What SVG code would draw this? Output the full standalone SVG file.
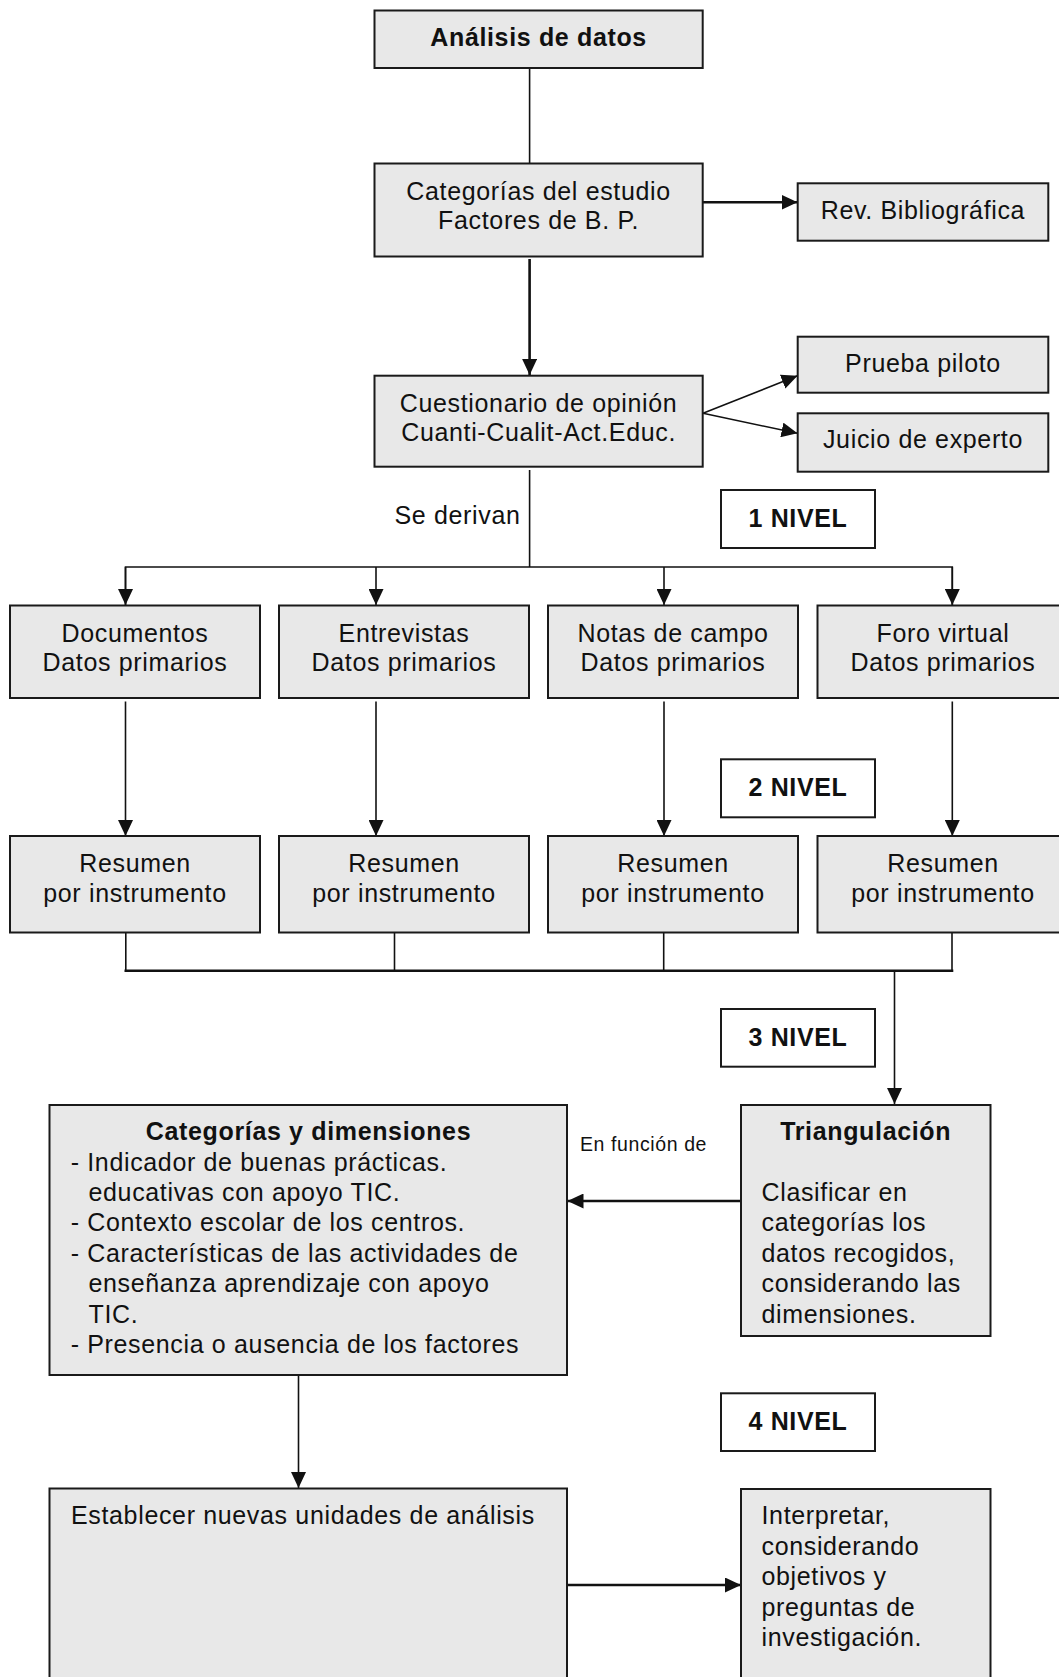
<svg xmlns="http://www.w3.org/2000/svg" width="1059" height="1677" viewBox="0 0 1059 1677">
<style>
  .box { fill: #e8e8e8; stroke: #1a1a1a; stroke-width: 2; }
  .lvl { fill: #ffffff; stroke: #1a1a1a; stroke-width: 2; }
  text { font-family: "Liberation Sans", Arial, sans-serif; font-size: 25px; fill: #111; letter-spacing: 0.65px; }
  .c { text-anchor: middle; }
  .b { font-weight: bold; }
  .small { font-size: 19.5px; letter-spacing: 0.6px; }
  .ln { fill: none; stroke: #111; stroke-width: 1.6; }
  .lnb { fill: none; stroke: #111; stroke-width: 2.6; }
  .arr { marker-end: url(#ah); }
</style>
<defs>
  <marker id="ah" markerUnits="userSpaceOnUse" markerWidth="16" markerHeight="15" refX="16" refY="7.5" orient="auto">
    <path d="M0,0 L16,7.5 L0,15 z" fill="#111"/>
  </marker>
</defs>

<g id="connectors">
  <line class="ln" x1="529.6" y1="68" x2="529.6" y2="163"/>
  <line class="lnb arr" x1="703" y1="202.3" x2="797.5" y2="202.3"/>
  <line class="lnb arr" x1="529.6" y1="259" x2="529.6" y2="375"/>
  <line class="ln arr" x1="703" y1="413.3" x2="797.5" y2="375.7"/>
  <line class="ln arr" x1="703" y1="413.3" x2="797.5" y2="433.3"/>
  <line class="ln" x1="529.6" y1="470" x2="529.6" y2="567"/>
  <polyline class="ln" points="125.5,605 125.5,567 952.3,567 952.3,605"/>
  <line class="ln arr" x1="125.5" y1="567" x2="125.5" y2="605"/>
  <line class="ln arr" x1="376" y1="567" x2="376" y2="605"/>
  <line class="ln arr" x1="664" y1="567" x2="664" y2="605"/>
  <line class="ln arr" x1="952.3" y1="567" x2="952.3" y2="605"/>
  <line class="ln arr" x1="125.5" y1="701.5" x2="125.5" y2="836"/>
  <line class="ln arr" x1="376" y1="701.5" x2="376" y2="836"/>
  <line class="ln arr" x1="664" y1="701.5" x2="664" y2="836"/>
  <line class="ln arr" x1="952.3" y1="701.5" x2="952.3" y2="836"/>
  <line class="ln" x1="125.8" y1="933" x2="125.8" y2="970.7"/>
  <line class="ln" x1="394.5" y1="933" x2="394.5" y2="970.7"/>
  <line class="ln" x1="663.7" y1="933" x2="663.7" y2="970.7"/>
  <line class="ln" x1="952" y1="933" x2="952" y2="970.7"/>
  <line class="lnb" x1="124.5" y1="970.7" x2="953.3" y2="970.7"/>
  <line class="ln arr" x1="894.5" y1="970.7" x2="894.5" y2="1104"/>
  <line class="lnb arr" x1="741" y1="1201" x2="567.5" y2="1201"/>
  <line class="ln arr" x1="298.5" y1="1376" x2="298.5" y2="1488"/>
  <line class="lnb arr" x1="567.5" y1="1585" x2="741" y2="1585"/>
</g>

<g id="analisis">
  <rect class="box" x="374.5" y="10.5" width="328.2" height="57.5"/>
  <text class="c b" x="538.6" y="46">Análisis de datos</text>
</g>

<g id="categorias-estudio">
  <rect class="box" x="374.5" y="163.5" width="328.2" height="93"/>
  <text class="c" x="538.6" y="199.5">Categorías del estudio</text>
  <text class="c" x="538.6" y="228.5">Factores de B. P.</text>
</g>

<g id="rev-bibliografica">
  <rect class="box" x="797.7" y="183.3" width="250.6" height="57.4"/>
  <text class="c" x="923" y="219.3">Rev. Bibliográfica</text>
</g>

<g id="cuestionario">
  <rect class="box" x="374.5" y="375.7" width="328.2" height="91"/>
  <text class="c" x="538.6" y="411.5">Cuestionario de opinión</text>
  <text class="c" x="538.6" y="440.5">Cuanti-Cualit-Act.Educ.</text>
</g>

<g id="prueba-piloto">
  <rect class="box" x="797.7" y="336.7" width="250.6" height="56"/>
  <text class="c" x="923" y="371.7">Prueba piloto</text>
</g>

<g id="juicio-experto">
  <rect class="box" x="797.7" y="413.3" width="250.6" height="58.4"/>
  <text class="c" x="923" y="448.3">Juicio de experto</text>
</g>

<g id="se-derivan">
  <text x="394.5" y="524">Se derivan</text>
</g>

<g id="nivel-1">
  <rect class="lvl" x="721" y="490" width="154" height="58"/>
  <text class="c b" x="798" y="527">1 NIVEL</text>
</g>

<g id="documentos">
  <rect class="box" x="10" y="605.5" width="250" height="92.5"/>
  <text class="c" x="135" y="641.5">Documentos</text>
  <text class="c" x="135" y="671">Datos primarios</text>
</g>
<g id="entrevistas">
  <rect class="box" x="279" y="605.5" width="250" height="92.5"/>
  <text class="c" x="404" y="641.5">Entrevistas</text>
  <text class="c" x="404" y="671">Datos primarios</text>
</g>
<g id="notas-campo">
  <rect class="box" x="548" y="605.5" width="250" height="92.5"/>
  <text class="c" x="673" y="641.5">Notas de campo</text>
  <text class="c" x="673" y="671">Datos primarios</text>
</g>
<g id="foro-virtual">
  <rect class="box" x="817.5" y="605.5" width="251" height="92.5"/>
  <text class="c" x="943" y="641.5">Foro virtual</text>
  <text class="c" x="943" y="671">Datos primarios</text>
</g>

<g id="nivel-2">
  <rect class="lvl" x="721" y="759.3" width="154" height="58"/>
  <text class="c b" x="798" y="796.3">2 NIVEL</text>
</g>

<g id="resumen-1">
  <rect class="box" x="10" y="836" width="250" height="96.5"/>
  <text class="c" x="135" y="871.7">Resumen</text>
  <text class="c" x="135" y="901.7">por instrumento</text>
</g>
<g id="resumen-2">
  <rect class="box" x="279" y="836" width="250" height="96.5"/>
  <text class="c" x="404" y="871.7">Resumen</text>
  <text class="c" x="404" y="901.7">por instrumento</text>
</g>
<g id="resumen-3">
  <rect class="box" x="548" y="836" width="250" height="96.5"/>
  <text class="c" x="673" y="871.7">Resumen</text>
  <text class="c" x="673" y="901.7">por instrumento</text>
</g>
<g id="resumen-4">
  <rect class="box" x="817.5" y="836" width="251" height="96.5"/>
  <text class="c" x="943" y="871.7">Resumen</text>
  <text class="c" x="943" y="901.7">por instrumento</text>
</g>

<g id="nivel-3">
  <rect class="lvl" x="721" y="1009" width="154" height="57.7"/>
  <text class="c b" x="798" y="1046">3 NIVEL</text>
</g>

<g id="categorias-dimensiones">
  <rect class="box" x="49.5" y="1105" width="517.5" height="270"/>
  <text class="c b" x="308.5" y="1140">Categorías y dimensiones</text>
  <text x="70.7" y="1170.7">- Indicador de buenas prácticas.</text>
  <text x="88.5" y="1200.5">educativas con apoyo TIC.</text>
  <text x="70.7" y="1231">- Contexto escolar de los centros.</text>
  <text x="70.7" y="1261.5">- Características de las actividades de</text>
  <text x="88.5" y="1292.3">enseñanza aprendizaje con apoyo</text>
  <text x="88.5" y="1322.7">TIC.</text>
  <text x="70.7" y="1353.3">- Presencia o ausencia de los factores</text>
</g>

<g id="en-funcion-de">
  <text class="small" x="580" y="1150.5">En función de</text>
</g>

<g id="triangulacion">
  <rect class="box" x="741" y="1105" width="249.5" height="231"/>
  <text class="c b" x="865.7" y="1140">Triangulación</text>
  <text x="761.5" y="1200.5">Clasificar en</text>
  <text x="761.5" y="1231">categorías los</text>
  <text x="761.5" y="1261.5">datos recogidos,</text>
  <text x="761.5" y="1292.3">considerando las</text>
  <text x="761.5" y="1322.7">dimensiones.</text>
</g>

<g id="nivel-4">
  <rect class="lvl" x="721" y="1393.3" width="154" height="57.7"/>
  <text class="c b" x="798" y="1430.3">4 NIVEL</text>
</g>

<g id="establecer">
  <rect class="box" x="49.5" y="1488.5" width="517.5" height="220"/>
  <text x="71" y="1524">Establecer nuevas unidades de análisis</text>
</g>

<g id="interpretar">
  <rect class="box" x="741" y="1489" width="249.5" height="220"/>
  <text x="761.5" y="1524">Interpretar,</text>
  <text x="761.5" y="1554.5">considerando</text>
  <text x="761.5" y="1585">objetivos y</text>
  <text x="761.5" y="1615.5">preguntas de</text>
  <text x="761.5" y="1646">investigación.</text>
</g>
</svg>
